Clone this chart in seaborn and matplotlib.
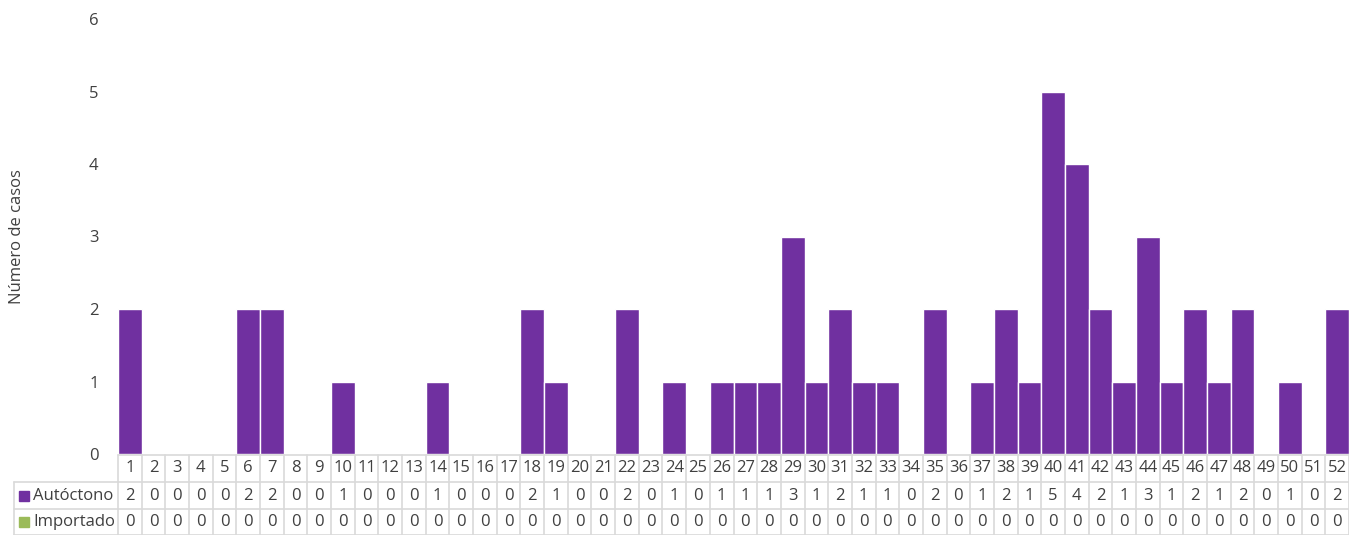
import matplotlib
matplotlib.use("Agg")
import matplotlib.pyplot as plt
import seaborn as sns
import pandas as pd
from matplotlib.transforms import blended_transform_factory
from matplotlib.patches import Rectangle
from matplotlib.lines import Line2D

weeks = [str(i) for i in range(1, 53)]
autoctono = [2, 0, 0, 0, 0, 2, 2, 0, 0, 1, 0, 0, 0, 1, 0, 0, 0, 2, 1, 0, 0, 2, 0, 1, 0, 1,
             1, 1, 3, 1, 2, 1, 1, 0, 2, 0, 1, 2, 1, 5, 4, 2, 1, 3, 1, 2, 1, 2, 0, 1, 0, 2]
importado = [0] * 52
series_names = ["Autóctono", "Importado"]
series_colors = ["#7030A0", "#9BBB59"]
y_label = "Número de casos"

sns.set_theme(style="white")
plt.rcParams['font.family'] = ['Open Sans', 'DejaVu Sans']

W, H = 1349, 535
fig = plt.figure(figsize=(W / 100, H / 100), dpi=100)
left_px, right_px, bottom_px, top_px = 118, 1349, 454, 19
ax = fig.add_axes([left_px / W, (H - bottom_px) / H, (right_px - left_px) / W, (bottom_px - top_px) / H])

df = pd.DataFrame({"week": weeks, "Autóctono": autoctono, "Importado": importado})
sns.barplot(data=df, x="week", y="Autóctono", order=weeks, color=series_colors[0],
            width=1.0, edgecolor="white", linewidth=1.0, saturation=1, ax=ax)

fs = 12
tc = "#404040"
ax.set_xlim(-0.5, len(weeks) - 0.5)
ax.set_ylim(0, 6)
ax.set_yticks(range(0, 7))
ax.set_yticklabels([str(i) for i in range(0, 7)], fontsize=fs, color=tc)
ax.tick_params(axis="y", length=0, pad=14)
ax.set_xticks([])
ax.set_xlabel("")
ax.set_ylabel("")
for s in ax.spines.values():
    s.set_visible(False)
fig.text(17 / W, (H - 237) / H, y_label, rotation=90, ha="center", va="center",
         fontsize=fs, color=tc)

# Data table
trans = blended_transform_factory(ax.transData, ax.transAxes)
ph = bottom_px - top_px
def yfrac(py):
    return -(py - bottom_px) / ph

grid = "#D9D9D9"
row_tops = [455, 482, 509, 535]
n = len(weeks)
for py in row_tops:
    ax.add_line(Line2D([-0.5, n - 0.5], [yfrac(py)] * 2, transform=trans, color=grid,
                       lw=1.2, clip_on=False))
for i in range(n + 1):
    ax.add_line(Line2D([i - 0.5] * 2, [yfrac(455), yfrac(535)], transform=trans, color=grid,
                       lw=1.2, clip_on=False))
for py in row_tops[1:]:
    fig.add_artist(Line2D([14 / W, left_px / W], [(H - py) / H] * 2, color=grid, lw=1.2))
fig.add_artist(Line2D([14 / W, 14 / W], [(H - 482) / H, (H - 535) / H], color=grid, lw=1.2))

for i, wk in enumerate(weeks):
    ax.text(i, yfrac(468.5), wk, transform=trans, ha="center", va="center", fontsize=fs,
            color=tc, clip_on=False)
    ax.text(i, yfrac(495.5), str(autoctono[i]), transform=trans, ha="center", va="center",
            fontsize=fs, color=tc, clip_on=False)
    ax.text(i, yfrac(522), str(importado[i]), transform=trans, ha="center", va="center",
            fontsize=fs, color=tc, clip_on=False)

for name, col, py in zip(series_names, series_colors, [495.5, 522]):
    fig.add_artist(Rectangle((19 / W, (H - py - 5) / H), 10 / W, 10 / H, color=col))
    fig.text(33 / W, (H - py) / H, name, ha="left", va="center", fontsize=fs, color=tc)

fig.savefig("out.png", dpi=100)
